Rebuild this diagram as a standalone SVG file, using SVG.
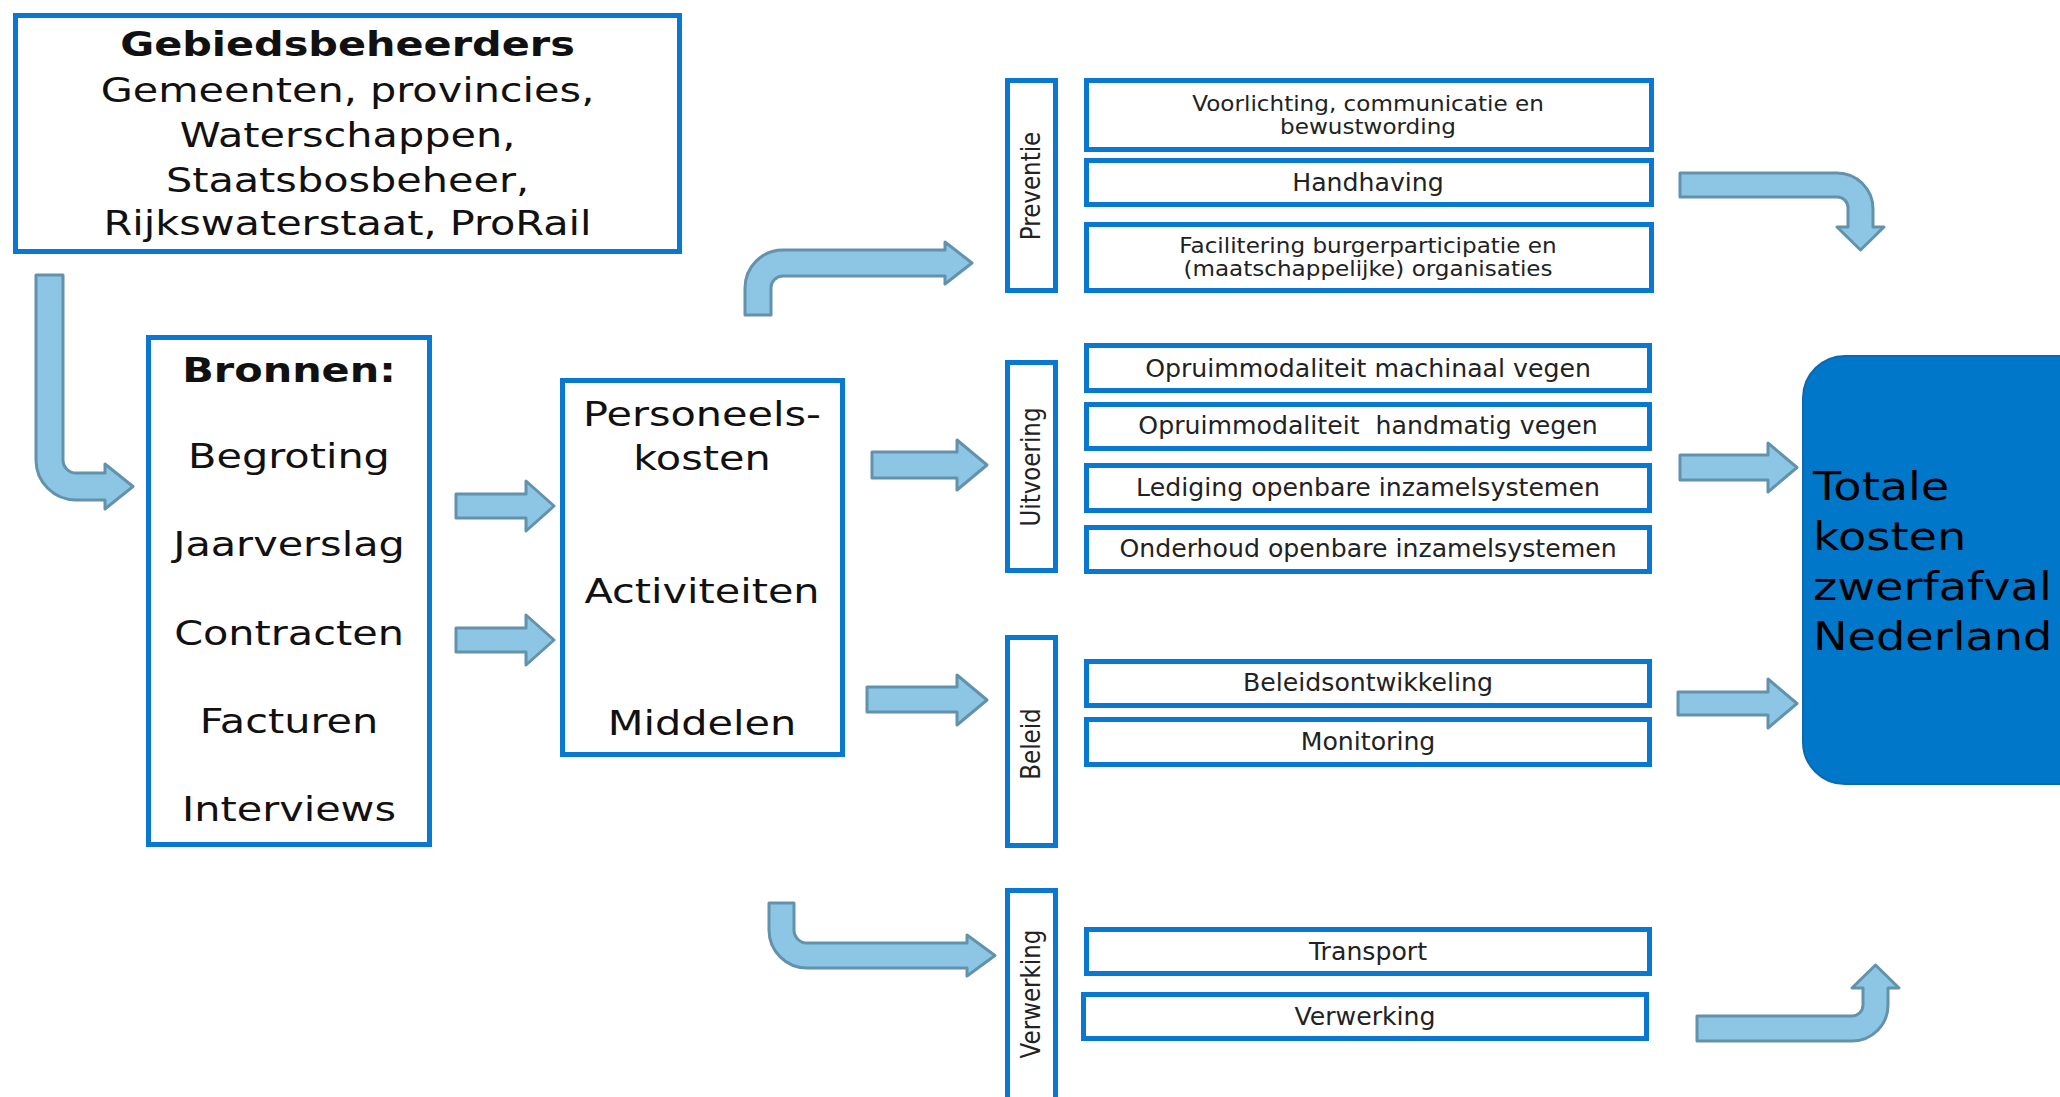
<svg xmlns="http://www.w3.org/2000/svg" width="2060" height="1097" viewBox="0 0 2060 1097">
<style>
.box{fill:#fff;stroke:#0A78D0;stroke-width:5}
.arrow{fill:#8DC6E5;stroke:#6392AC;stroke-width:3;stroke-linejoin:round}
.big{font-family:"DejaVu Sans","Liberation Sans",sans-serif;font-size:34.5px;fill:#111;text-anchor:middle}
.bold{font-weight:bold}
.item{font-family:"DejaVu Sans","Liberation Sans",sans-serif;font-size:24px;fill:#222;text-anchor:middle}
.item2{font-family:"DejaVu Sans","Liberation Sans",sans-serif;font-size:22px;fill:#222;text-anchor:middle}
.vert{font-family:"DejaVu Sans","Liberation Sans",sans-serif;font-size:23px;fill:#222;text-anchor:middle}
.total{font-family:"DejaVu Sans","Liberation Sans",sans-serif;font-size:38.5px;fill:#000}
</style>
<rect width="2060" height="1097" fill="#fff"/>

<g id="connectors">
  <path class="arrow" d="M36,275 L63,275 L63,460 A13,13 0 0 0 76,473 L105,473 L105,464 L133,486.5 L105,509 L105,500 L76,500 A40,40 0 0 1 36,460 Z"/>
  <path class="arrow" d="M456,494 L526,494 L526,481 L554,506 L526,531 L526,518 L456,518 Z"/>
  <path class="arrow" d="M456,628 L526,628 L526,615 L554,640 L526,665 L526,652 L456,652 Z"/>
  <path class="arrow" d="M745,315 L745,288 A38,38 0 0 1 783,250 L945,250 L945,242 L972,263 L945,284 L945,276 L783,276 A12,12 0 0 0 771,288 L771,315 Z"/>
  <path class="arrow" d="M872,452 L957,452 L957,440 L987,465 L957,490 L957,478 L872,478 Z"/>
  <path class="arrow" d="M867,687 L957,687 L957,675 L987,700 L957,725 L957,712 L867,712 Z"/>
  <path class="arrow" d="M769,903 L794,903 L794,930 A13,13 0 0 0 807,943 L967,943 L967,935 L995,955.5 L967,976 L967,968 L807,968 A38,38 0 0 1 769,930 Z"/>
  <path class="arrow" d="M1680,173 L1837,173 A36,36 0 0 1 1873,209 L1873,227 L1884,227 L1860.5,250 L1837,227 L1848,227 L1848,209 A11,11 0 0 0 1837,197 L1680,197 Z"/>
  <path class="arrow" d="M1680,455 L1768,455 L1768,443 L1797,467.5 L1768,492 L1768,480 L1680,480 Z"/>
  <path class="arrow" d="M1678,692 L1768,692 L1768,679 L1797,703.5 L1768,728 L1768,715 L1678,715 Z"/>
  <path class="arrow" d="M1697,1016 L1852,1016 A11,11 0 0 0 1863,1005 L1863,988 L1852,988 L1875.5,965 L1899,988 L1888,988 L1888,1005 A36,36 0 0 1 1852,1041 L1697,1041 Z"/>
</g>

<g id="gebiedsbeheerders">
  <rect class="box" x="15.5" y="15.5" width="664" height="236"/>
  <text class="big bold" transform="translate(347.5,56) scale(1.2,1)">Gebiedsbeheerders</text>
  <text class="big" transform="translate(347.5,102) scale(1.2,1)">Gemeenten, provincies,</text>
  <text class="big" transform="translate(347.5,147) scale(1.2,1)">Waterschappen,</text>
  <text class="big" transform="translate(347.5,192) scale(1.2,1)">Staatsbosbeheer,</text>
  <text class="big" transform="translate(347.5,235) scale(1.2,1)">Rijkswaterstaat, ProRail</text>
</g>

<g id="bronnen">
  <rect class="box" x="148.5" y="337.5" width="281" height="507"/>
  <text class="big bold" transform="translate(289,382) scale(1.2,1)">Bronnen:</text>
  <text class="big" transform="translate(289,468) scale(1.2,1)">Begroting</text>
  <text class="big" transform="translate(289,556) scale(1.2,1)">Jaarverslag</text>
  <text class="big" transform="translate(289,645) scale(1.2,1)">Contracten</text>
  <text class="big" transform="translate(289,733) scale(1.2,1)">Facturen</text>
  <text class="big" transform="translate(289,821) scale(1.2,1)">Interviews</text>
</g>

<g id="kostensoorten">
  <rect class="box" x="562.5" y="380.5" width="280" height="374"/>
  <text class="big" transform="translate(702,426) scale(1.2,1)">Personeels-</text>
  <text class="big" transform="translate(702,470) scale(1.2,1)">kosten</text>
  <text class="big" transform="translate(702,603) scale(1.2,1)">Activiteiten</text>
  <text class="big" transform="translate(702,735) scale(1.2,1)">Middelen</text>
</g>

<g id="preventie">
  <rect class="box" x="1007.5" y="80.5" width="48" height="210"/>
  <text class="vert" transform="translate(1040,186) scale(1.15,1) rotate(-90)">Preventie</text>
</g>
<g id="voorlichting">
  <rect class="box" x="1086.5" y="80.5" width="565" height="69"/>
  <text class="item2" transform="translate(1368,111) scale(1.05,1)">Voorlichting, communicatie en</text>
  <text class="item2" transform="translate(1368,134) scale(1.05,1)">bewustwording</text>
</g>
<g id="handhaving">
  <rect class="box" x="1086.5" y="160.5" width="565" height="44"/>
  <text class="item" transform="translate(1368,191) scale(1.05,1)">Handhaving</text>
</g>
<g id="facilitering">
  <rect class="box" x="1086.5" y="224.5" width="565" height="66"/>
  <text class="item2" transform="translate(1368,253) scale(1.05,1)">Facilitering burgerparticipatie en</text>
  <text class="item2" transform="translate(1368,276) scale(1.05,1)">(maatschappelijke) organisaties</text>
</g>

<g id="uitvoering">
  <rect class="box" x="1007.5" y="362.5" width="48" height="208"/>
  <text class="vert" transform="translate(1040,467) scale(1.15,1) rotate(-90)">Uitvoering</text>
</g>
<g id="machinaal">
  <rect class="box" x="1086.5" y="345.5" width="563" height="45"/>
  <text class="item" transform="translate(1368,377) scale(1.05,1)">Opruimmodaliteit machinaal vegen</text>
</g>
<g id="handmatig">
  <rect class="box" x="1086.5" y="404.5" width="563" height="44"/>
  <text class="item" xml:space="preserve" transform="translate(1368,434) scale(1.05,1)">Opruimmodaliteit  handmatig vegen</text>
</g>
<g id="lediging">
  <rect class="box" x="1086.5" y="465.5" width="563" height="45"/>
  <text class="item" transform="translate(1368,496) scale(1.05,1)">Lediging openbare inzamelsystemen</text>
</g>
<g id="onderhoud">
  <rect class="box" x="1086.5" y="527.5" width="563" height="44"/>
  <text class="item" transform="translate(1368,557) scale(1.05,1)">Onderhoud openbare inzamelsystemen</text>
</g>

<g id="beleid">
  <rect class="box" x="1007.5" y="637.5" width="48" height="208"/>
  <text class="vert" transform="translate(1040,744) scale(1.15,1) rotate(-90)">Beleid</text>
</g>
<g id="beleidsontwikkeling">
  <rect class="box" x="1086.5" y="661.5" width="563" height="44"/>
  <text class="item" transform="translate(1368,691) scale(1.05,1)">Beleidsontwikkeling</text>
</g>
<g id="monitoring">
  <rect class="box" x="1086.5" y="719.5" width="563" height="45"/>
  <text class="item" transform="translate(1368,750) scale(1.05,1)">Monitoring</text>
</g>

<g id="verwerking-fase">
  <rect class="box" x="1007.5" y="890.5" width="48" height="220"/>
  <text class="vert" transform="translate(1040,994) scale(1.15,1) rotate(-90)">Verwerking</text>
</g>
<g id="transport">
  <rect class="box" x="1086.5" y="929.5" width="563" height="44"/>
  <text class="item" transform="translate(1368,960) scale(1.05,1)">Transport</text>
</g>
<g id="verwerking">
  <rect class="box" x="1083.5" y="994.5" width="563" height="44"/>
  <text class="item" transform="translate(1365,1025) scale(1.05,1)">Verwerking</text>
</g>

<g id="totale-kosten">
  <rect x="1803" y="356" width="300" height="428" rx="42" ry="42" fill="#0077C8" stroke="#0A69B0" stroke-width="2"/>
  <text class="total" transform="translate(1813,500) scale(1.2,1)">Totale</text>
  <text class="total" transform="translate(1813,550) scale(1.2,1)">kosten</text>
  <text class="total" transform="translate(1813,600) scale(1.2,1)">zwerfafval</text>
  <text class="total" transform="translate(1813,650) scale(1.2,1)">Nederland</text>
</g>
</svg>
